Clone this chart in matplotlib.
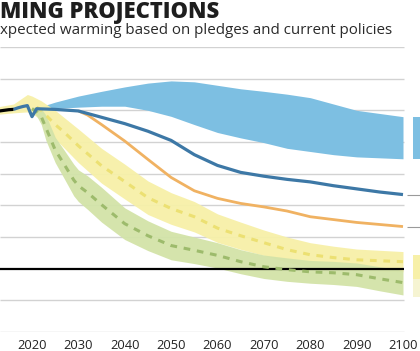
import matplotlib
matplotlib.use("Agg")
import matplotlib.pyplot as plt
import numpy as np

# ---------------- data ----------------
title = "MING PROJECTIONS"
subtitle = "xpected warming based on pledges and current policies"

tick_years = [2020, 2030, 2040, 2050, 2060, 2070, 2080, 2090, 2100]
tick_labels = [str(y) for y in tick_years]
grid_values = [-20, -10, 10, 20, 30, 40, 50, 60, 70]

hist_years = [2013, 2014, 2015, 2016]
hist_vals = [49.8, 50.0, 50.2, 50.3]

cp_years = [2016, 2017, 2018, 2019, 2020, 2021, 2025, 2030, 2035, 2040, 2045,
            2050, 2055, 2060, 2065, 2070, 2075, 2080, 2085, 2090, 2095, 2100]
cp_vals = [50.3, 50.8, 51.2, 51.5, 48.0, 50.5, 50.3, 49.8, 47.8, 45.8, 43.4,
           40.5, 36.0, 32.6, 30.4, 29.2, 28.2, 27.4, 26.2, 25.2, 24.2, 23.4]

pl_years = [2030, 2032, 2035, 2040, 2045, 2050, 2055, 2060, 2065, 2070, 2075,
            2080, 2090, 2100]
pl_vals = [49.8, 48.5, 45.5, 40.3, 34.5, 28.8, 24.6, 22.2, 20.6, 19.5, 18.2,
           16.4, 14.6, 13.3]

np_years = [2020, 2025, 2030, 2035, 2040, 2045, 2050, 2055, 2060, 2065, 2070,
            2075, 2080, 2085, 2090, 2095, 2100]
np_upper = [50.3, 52.6, 54.5, 56.0, 57.4, 58.6, 59.3, 59.0, 57.9, 56.8, 56.0,
            55.1, 54.0, 52.0, 50.0, 49.0, 48.0]
np_lower = [50.0, 50.6, 51.0, 51.3, 51.3, 50.0, 48.1, 45.5, 43.0, 41.3, 39.8,
            38.0, 37.0, 36.0, 35.3, 35.0, 34.7]

two_band_years = [2013, 2016, 2019, 2020, 2022, 2025, 2030, 2035, 2040, 2045,
                  2050, 2055, 2060, 2065, 2070, 2075, 2080, 2085, 2090, 2095, 2100]
two_upper = [51.2, 52.0, 55.0, 54.5, 53.0, 50.0, 44.1, 38.0, 33.0, 27.7,
             24.0, 21.2, 17.3, 14.7, 12.2, 10.0, 8.2, 7.1, 6.2, 5.8, 5.4]
two_lower = [48.8, 49.2, 49.5, 49.0, 47.0, 41.0, 33.5, 27.0, 22.0, 17.1,
             14.0, 11.6, 8.3, 6.1, 4.2, 2.0, 0.6, -0.1, -0.6, -0.8, -1.0]
two_center_years = [2021, 2022, 2025, 2027, 2030, 2035, 2040, 2045, 2050, 2055,
                    2060, 2065, 2070, 2075, 2080, 2085, 2090, 2095, 2100]
two_center = [51.0, 50.0, 45.5, 43.0, 38.8, 32.5, 27.5, 22.4, 19.0, 16.4,
              12.8, 10.4, 8.2, 6.0, 4.4, 3.5, 2.8, 2.5, 2.2]

one_years = [2020, 2021, 2022, 2023, 2025, 2027, 2029, 2030, 2032, 2035, 2040,
             2045, 2050, 2055, 2060, 2065, 2070, 2075, 2080, 2085, 2090, 2095, 2100]
one_center = [50.5, 49.6, 48.0, 44.5, 37.5, 32.8, 28.0, 26.2, 24.0, 20.2, 14.2,
              10.4, 7.3, 5.8, 4.2, 2.2, 0.6, -0.3, -1.0, -1.3, -1.9, -3.2, -4.4]
one_upper = [51.0, 51.0, 50.5, 48.5, 41.5, 37.3, 33.0, 31.2, 29.3, 25.7, 19.2,
             15.1, 11.8, 10.0, 8.2, 6.0, 4.3, 3.4, 2.6, 2.3, 1.8, 0.6, -0.5]
one_lower = [50.0, 48.2, 45.5, 40.5, 33.5, 28.3, 23.0, 21.2, 18.7, 14.7, 9.2,
             5.7, 2.8, 1.6, 0.2, -1.6, -3.1, -4.0, -4.6, -5.0, -5.6, -7.0, -8.3]

# right-side 2100 range bars (bottom, top)
bar_blue = (34.7, 48.0)
bar_yellow = (-3.2, 4.4)
bar_pale = (-8.8, -3.2)
leader_vals = [23.4, 13.3]

# ---------------- figure ----------------
W, H = 420, 351
fig = plt.figure(figsize=(W / 100, H / 100), dpi=100)
ax = fig.add_axes([0, 19 / H, 1, 285 / H])
x0 = 2013.1
x1 = x0 + 420 / 4.6375
ax.set_xlim(x0, x1)
ax.set_ylim(-20, 70)
for s in ax.spines.values():
    s.set_visible(False)
ax.set_yticks([])

grid_c = "#d2d2d2"
ax.hlines(grid_values, x0, 2100.2, color=grid_c, lw=1.0, zorder=1)
ax.hlines([0], x0, 2100.2, color="black", lw=1.6, zorder=4)

c_band_blue = "#7dbfe2"
c_dark = "#3d78a6"
c_orange = "#f0b262"
c_yel_band = "#f7f0a8"
c_yel_dash = "#ece072"
c_grn_band = "#d3e3a8"
c_grn_dash = "#9dbb6c"

ax.fill_between(np_years, np_lower, np_upper, color=c_band_blue, lw=0, zorder=2)
ax.fill_between(two_band_years, two_lower, two_upper, color=c_yel_band, lw=0,
                zorder=2, alpha=0.95)
ax.fill_between(one_years, one_lower, one_upper, color=c_grn_band, lw=0,
                zorder=2.5, alpha=0.95)

ax.plot(two_center_years, two_center, color=c_yel_dash, lw=2.2,
        dashes=(2.2, 2.2), zorder=5, solid_capstyle="butt")
ax.plot(one_years, one_center, color=c_grn_dash, lw=2.2,
        dashes=(2.2, 2.2), zorder=5)

ax.plot(pl_years, pl_vals, color=c_orange, lw=2.0, zorder=6,
        solid_capstyle="butt")
ax.plot(cp_years, cp_vals, color=c_dark, lw=2.3, zorder=7,
        solid_capstyle="butt")
ax.plot(hist_years, hist_vals, color="black", lw=2.3, zorder=8,
        solid_capstyle="butt")

# right-side range bars
bx = 2102.1
bw = 3.0
ax.bar([bx], [bar_blue[1] - bar_blue[0]], bottom=bar_blue[0], width=bw,
       align="edge", color=c_band_blue, lw=0, zorder=2)
ax.bar([bx], [bar_yellow[1] - bar_yellow[0]], bottom=bar_yellow[0], width=bw,
       align="edge", color=c_yel_band, lw=0, zorder=2)
ax.bar([bx], [bar_pale[1] - bar_pale[0]], bottom=bar_pale[0], width=bw,
       align="edge", color="#f6f4d2", lw=0, zorder=2)
ax.hlines(leader_vals, 2100.9, x1, color="#9a9a9a", lw=0.8, zorder=3)

ax.set_xticks(tick_years)
ax.set_xticklabels(tick_labels, family="Open Sans", fontsize=9.3, color="#222222")
ax.tick_params(axis="x", length=0, pad=5)

fig.text(0.0, 1 - 18 / H, title, family="Open Sans", fontweight="heavy",
         fontsize=15.8, color="#1e1e1e", ha="left", va="baseline")
fig.text(-0.001, 1 - 34.5 / H, subtitle, family="Open Sans", fontsize=10.9,
         color="#2a2a2a", ha="left", va="baseline")

fig.savefig("out.png", dpi=100)
